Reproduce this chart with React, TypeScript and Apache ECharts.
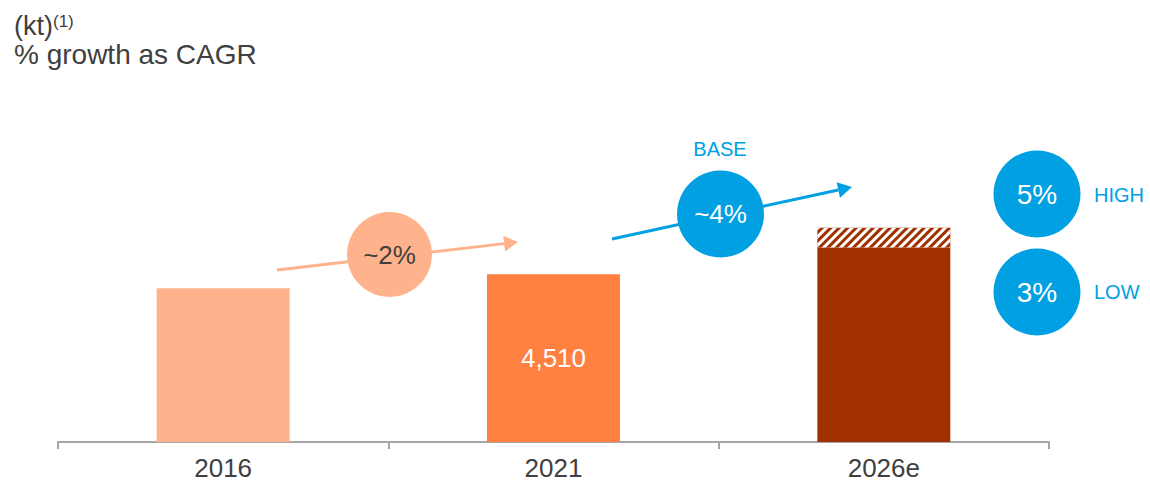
import React, { useEffect, useRef } from "react";
import * as echarts from "echarts";

const categories = ["2016", "2021", "2026e"];
const lowValues = [4130, 4510, 5228];
const highIncrement = [null, null, 528];
const barColors = ["#FFB38C", "#FF8040", "#A03000"];
const valueLabel = "4,510";
const growthPast = "~2%";
const growthBase = "~4%";
const growthHigh = "5%";
const growthLow = "3%";

const BLUE = "#00A0E2";
const PEACH = "#FFB38C";
const TEXT = "#404040";
const FONT = "Liberation Sans, Arial, sans-serif";

export default function App() {
  const ref = useRef<HTMLDivElement>(null);
  useEffect(() => {
    document.body.style.margin = "0";
    const chart = echarts.init(ref.current!, null, { renderer: "svg" });
    const arrow = (x1: number, y1: number, x2: number, y2: number, color: string) => {
      const dx = x2 - x1, dy = y2 - y1;
      const len = Math.sqrt(dx * dx + dy * dy);
      const ux = dx / len, uy = dy / len;
      const hl = 14, hw = 8;
      const bx = x2 - hl * ux, by = y2 - hl * uy;
      const px = -uy * hw, py = ux * hw;
      return [
        { type: "line", shape: { x1, y1, x2: bx, y2: by }, style: { stroke: color, lineWidth: 3 } },
        {
          type: "polygon",
          shape: { points: [[x2, y2], [bx + px, by + py], [bx - px, by - py]] },
          style: { fill: color },
        },
      ];
    };
    const circle = (cx: number, cy: number, r: number, color: string, text: string, textColor: string, fs: number) => [
      { type: "circle", shape: { cx, cy, r }, style: { fill: color } },
      {
        type: "text",
        x: cx,
        y: cy,
        style: { text, fill: textColor, fontSize: fs, fontFamily: FONT, align: "center", verticalAlign: "middle" },
      },
    ];
    const label = (x: number, y: number, text: string, fs: number, color: string, align = "left") => ({
      type: "text",
      x,
      y,
      style: { text, fill: color, fontSize: fs, fontFamily: FONT, align, verticalAlign: "middle" },
    });
    chart.setOption({
      animation: false,
      grid: { left: 58, right: 101, top: 107, bottom: 42 },
      xAxis: {
        type: "category",
        data: categories,
        axisLine: { lineStyle: { color: "#A6A6A6", width: 2 } },
        axisTick: { show: true, length: 7, lineStyle: { color: "#A6A6A6", width: 2 } },
        axisLabel: { fontSize: 26, color: TEXT, fontFamily: FONT, margin: 13 },
      },
      yAxis: { type: "value", min: 0, max: 9000, show: false, splitLine: { show: false } },
      series: [
        {
          type: "bar",
          stack: "a",
          barWidth: 133,
          data: lowValues.map((v, i) => ({
            value: v,
            itemStyle: { color: barColors[i] },
            label:
              i === 1
                ? { show: true, position: "inside", formatter: valueLabel, color: "#fff", fontSize: 26, fontFamily: FONT }
                : { show: false },
          })),
        },
        {
          type: "bar",
          stack: "a",
          barWidth: 133,
          data: highIncrement,
          itemStyle: {
            color: "#A03000",
            decal: {
              symbol: "rect",
              symbolSize: 1,
              color: "#ffffff",
              dashArrayX: [1, 0],
              dashArrayY: [3, 3],
              rotation: -Math.PI / 4,
            },
          },
        },
      ],
      graphic: [
        label(14, 26, "(kt)", 27, TEXT),
        label(53, 21, "(1)", 17, TEXT),
        label(14, 54, "% growth as CAGR", 28, TEXT),
        ...arrow(277, 270, 518, 242, PEACH),
        ...arrow(612, 239, 852, 187, BLUE),
        ...circle(389.5, 254.5, 42.5, PEACH, growthPast, TEXT, 26),
        ...circle(720.5, 214, 43.5, BLUE, growthBase, "#fff", 26),
        label(720, 149, "BASE", 20, BLUE, "center"),
        ...circle(1037, 194, 43.5, BLUE, growthHigh, "#fff", 28),
        ...circle(1037, 292, 43.5, BLUE, growthLow, "#fff", 28),
        label(1094, 195, "HIGH", 20, BLUE),
        label(1094, 292, "LOW", 20, BLUE),
      ],
    });
    return () => chart.dispose();
  }, []);
  return <div ref={ref} style={{ width: 1150, height: 484 }} />;
}
